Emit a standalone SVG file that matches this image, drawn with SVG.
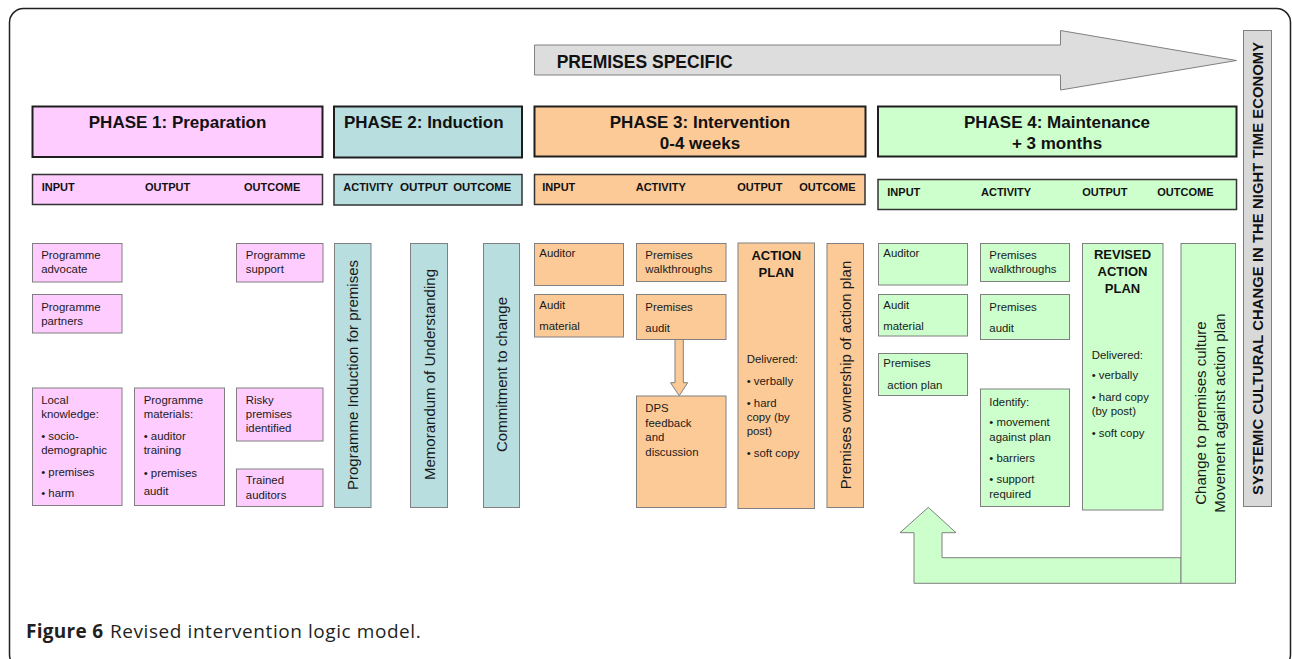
<svg xmlns="http://www.w3.org/2000/svg" width="1292" height="659" viewBox="0 0 1292 659">
<style>
text{font-family:"Liberation Sans",Arial,sans-serif;fill:#1a1a1a}
.hdr{stroke:#1e1e1e;stroke-width:2}
.row{stroke:#333;stroke-width:1.5}
.box{stroke:#808080;stroke-width:1}
.pink{fill:#FFCCFF}.teal{fill:#B8DEE0}.orng{fill:#FCCA97}.grn{fill:#CCFFCC}
.h{font-size:17px;font-weight:bold;fill:#111}
.r{font-size:11px;font-weight:bold;fill:#111}
.t{font-size:11.4px}
.v{font-size:15px}
.b{font-size:13px;font-weight:bold;fill:#111}
.mid{text-anchor:middle}
</style>
<rect id="frame" x="9.5" y="8.5" width="1281" height="660" rx="14" fill="none" stroke="#231f20" stroke-width="1.5"/>

<g id="premises-specific">
<polygon points="534.5,45 1060.5,45 1060.5,30.5 1236.5,60.5 1060.5,90 1060.5,75 534.5,75" fill="#DDDDDD" stroke="#808080" stroke-width="1"/>
<text x="556.7" y="68.3" style="font-size:17.5px;font-weight:bold;fill:#111">PREMISES SPECIFIC</text>
</g>

<g id="systemic">
<rect x="1243.5" y="30.5" width="28" height="476" fill="#D9D9D9" stroke="#808080" stroke-width="1"/>
<text transform="translate(1262.8,268.4) rotate(-90)" class="mid" style="font-size:14.8px;font-weight:bold;fill:#111" textLength="453" lengthAdjust="spacing">SYSTEMIC CULTURAL CHANGE IN THE NIGHT TIME ECONOMY</text>
</g>

<!-- Phase headers -->
<g id="phase1-header">
<rect class="hdr pink" x="32.5" y="106.5" width="290" height="50.5"/>
<text class="h mid" x="177.6" y="128.3">PHASE 1: Preparation</text>
</g>
<g id="phase1-row">
<rect class="row pink" x="32.5" y="174.5" width="290" height="30"/>
<text class="r" x="41.7" y="190.7">INPUT</text>
<text class="r" x="145" y="190.7">OUTPUT</text>
<text class="r" x="244" y="190.7">OUTCOME</text>
</g>
<g id="phase2-header">
<rect class="hdr teal" x="334" y="106.5" width="188" height="51"/>
<text class="h" x="344" y="128.3">PHASE 2: Induction</text>
</g>
<g id="phase2-row">
<rect class="row teal" x="334" y="174.5" width="188" height="30.5"/>
<text class="r" x="343.3" y="190.7" textLength="50" lengthAdjust="spacingAndGlyphs">ACTIVITY</text>
<text class="r" x="400" y="190.7" textLength="48" lengthAdjust="spacingAndGlyphs">OUTPUT</text>
<text class="r" x="453.3" y="190.7" textLength="58" lengthAdjust="spacingAndGlyphs">OUTCOME</text>
</g>
<g id="phase3-header">
<rect class="hdr orng" x="534.5" y="106.5" width="331" height="50"/>
<text class="h mid" x="700" y="128.3">PHASE 3: Intervention</text>
<text class="h mid" x="700" y="149">0-4 weeks</text>
</g>
<g id="phase3-row">
<rect class="row orng" x="534.5" y="174.5" width="330.5" height="30"/>
<text class="r" x="542.3" y="191">INPUT</text>
<text class="r" x="635.7" y="191">ACTIVITY</text>
<text class="r" x="737.3" y="191">OUTPUT</text>
<text class="r" x="799.3" y="191">OUTCOME</text>
</g>
<g id="phase4-header">
<rect class="hdr grn" x="878" y="106.5" width="358.5" height="50"/>
<text class="h mid" x="1057" y="128.3">PHASE 4: Maintenance</text>
<text class="h mid" x="1057" y="149">+ 3 months</text>
</g>
<g id="phase4-row">
<rect class="row grn" x="878" y="179.5" width="358.5" height="30"/>
<text class="r" x="887.3" y="196">INPUT</text>
<text class="r" x="981" y="196">ACTIVITY</text>
<text class="r" x="1082.3" y="196">OUTPUT</text>
<text class="r" x="1157.3" y="196">OUTCOME</text>
</g>

<!-- Phase 1 nodes -->
<g id="p1-advocate">
<rect class="box pink" x="32.5" y="243.5" width="89.5" height="38.5"/>
<text class="t" x="41.2" y="259.3">Programme</text>
<text class="t" x="41.2" y="273.3">advocate</text>
</g>
<g id="p1-partners">
<rect class="box pink" x="32.5" y="294.5" width="89.5" height="38.5"/>
<text class="t" x="41.2" y="310.7">Programme</text>
<text class="t" x="41.2" y="324.7">partners</text>
</g>
<g id="p1-local">
<rect class="box pink" x="32.5" y="388" width="89.5" height="117.5"/>
<text class="t" x="41.2" y="404">Local</text>
<text class="t" x="41.2" y="418">knowledge:</text>
<text class="t" x="41.2" y="440">• socio-</text>
<text class="t" x="41.2" y="454">demographic</text>
<text class="t" x="41.2" y="476">• premises</text>
<text class="t" x="41.2" y="497.3">• harm</text>
</g>
<g id="p1-materials">
<rect class="box pink" x="134.5" y="388" width="90" height="117.5"/>
<text class="t" x="143.7" y="404">Programme</text>
<text class="t" x="143.7" y="418">materials:</text>
<text class="t" x="143.7" y="440">• auditor</text>
<text class="t" x="143.7" y="454">training</text>
<text class="t" x="143.7" y="477.3">• premises</text>
<text class="t" x="143.7" y="495.3">audit</text>
</g>
<g id="p1-support">
<rect class="box pink" x="236.5" y="243.5" width="86.5" height="38.5"/>
<text class="t" x="245.8" y="259.3">Programme</text>
<text class="t" x="245.8" y="273.3">support</text>
</g>
<g id="p1-risky">
<rect class="box pink" x="236.5" y="388" width="86.5" height="53"/>
<text class="t" x="245.8" y="404">Risky</text>
<text class="t" x="245.8" y="418">premises</text>
<text class="t" x="245.8" y="432">identified</text>
</g>
<g id="p1-trained">
<rect class="box pink" x="236.5" y="469" width="86.5" height="37.5"/>
<text class="t" x="245.8" y="484">Trained</text>
<text class="t" x="245.8" y="498.7">auditors</text>
</g>

<!-- Phase 2 nodes -->
<g id="p2-induction">
<rect class="box teal" x="334.5" y="243.5" width="36.5" height="264"/>
<text class="v mid" transform="translate(358,375) rotate(-90)">Programme Induction for premises</text>
</g>
<g id="p2-memorandum">
<rect class="box teal" x="410.5" y="243.5" width="37" height="264"/>
<text class="v mid" transform="translate(434.5,374.5) rotate(-90)">Memorandum of Understanding</text>
</g>
<g id="p2-commitment">
<rect class="box teal" x="483.5" y="243.5" width="36" height="264"/>
<text class="v mid" transform="translate(507,374.5) rotate(-90)">Commitment to change</text>
</g>

<!-- Phase 3 nodes -->
<g id="p3-auditor">
<rect class="box orng" x="534.5" y="243.5" width="89" height="42"/>
<text class="t" x="539.3" y="257.3">Auditor</text>
</g>
<g id="p3-audit-material">
<rect class="box orng" x="534.5" y="294.5" width="89" height="42.5"/>
<text class="t" x="539.3" y="308.7">Audit</text>
<text class="t" x="539.3" y="330.3">material</text>
</g>
<g id="p3-walkthroughs">
<rect class="box orng" x="636.5" y="243.5" width="89.5" height="38"/>
<text class="t" x="645.3" y="259.3">Premises</text>
<text class="t" x="645.3" y="273.3">walkthroughs</text>
</g>
<g id="p3-audit">
<rect class="box orng" x="636.5" y="294.5" width="89.5" height="45"/>
<text class="t" x="645.3" y="310.7">Premises</text>
<text class="t" x="645.3" y="332">audit</text>
</g>
<g id="p3-dps">
<rect class="box orng" x="636.5" y="396" width="89.5" height="111.5"/>
<text class="t" x="645.3" y="412">DPS</text>
<text class="t" x="645.3" y="426.5">feedback</text>
<text class="t" x="645.3" y="441">and</text>
<text class="t" x="645.3" y="455.5">discussion</text>
</g>
<g id="p3-action-plan">
<rect class="box orng" x="738" y="243" width="76.5" height="265.5"/>
<text class="b mid" x="776.3" y="260">ACTION</text>
<text class="b mid" x="776.3" y="276.7">PLAN</text>
<text class="t" x="746.7" y="363.3">Delivered:</text>
<text class="t" x="746.7" y="385.3">• verbally</text>
<text class="t" x="746.7" y="406.7">• hard</text>
<text class="t" x="746.7" y="421.3">copy (by</text>
<text class="t" x="746.7" y="435.3">post)</text>
<text class="t" x="746.7" y="457.3">• soft copy</text>
</g>
<g id="p3-ownership">
<rect class="box orng" x="827" y="243.5" width="36.5" height="264"/>
<text class="v mid" transform="translate(851,375) rotate(-90)">Premises ownership of action plan</text>
</g>

<!-- Phase 4 nodes -->
<g id="p4-auditor">
<rect class="box grn" x="878.5" y="243.5" width="89" height="41.5"/>
<text class="t" x="883.3" y="257.3">Auditor</text>
</g>
<g id="p4-audit-material">
<rect class="box grn" x="878.5" y="294.5" width="89" height="41.5"/>
<text class="t" x="883.3" y="308.7">Audit</text>
<text class="t" x="883.3" y="330.3">material</text>
</g>
<g id="p4-premises-action-plan">
<rect class="box grn" x="878.5" y="353.5" width="89" height="42"/>
<text class="t" x="883.3" y="367.3">Premises</text>
<text class="t" x="887.3" y="388.7">action plan</text>
</g>
<g id="p4-walkthroughs">
<rect class="box grn" x="980.5" y="243.5" width="89" height="38"/>
<text class="t" x="989.3" y="259.3">Premises</text>
<text class="t" x="989.3" y="273.3">walkthroughs</text>
</g>
<g id="p4-audit">
<rect class="box grn" x="980.5" y="294.5" width="89" height="45"/>
<text class="t" x="989.3" y="310.7">Premises</text>
<text class="t" x="989.3" y="332">audit</text>
</g>
<g id="p4-identify">
<rect class="box grn" x="980.5" y="389" width="89" height="117.5"/>
<text class="t" x="989.3" y="406">Identify:</text>
<text class="t" x="989.3" y="426">• movement</text>
<text class="t" x="989.3" y="440.7">against plan</text>
<text class="t" x="989.3" y="462">• barriers</text>
<text class="t" x="989.3" y="483.3">• support</text>
<text class="t" x="989.3" y="498">required</text>
</g>
<g id="p4-revised-action-plan">
<rect class="box grn" x="1082.5" y="243.5" width="80.5" height="266.5"/>
<text class="b mid" x="1122.5" y="259.3">REVISED</text>
<text class="b mid" x="1122.5" y="276">ACTION</text>
<text class="b mid" x="1122.5" y="292.7">PLAN</text>
<text class="t" x="1091.7" y="359.3">Delivered:</text>
<text class="t" x="1091.7" y="379.3">• verbally</text>
<text class="t" x="1091.7" y="400.7">• hard copy</text>
<text class="t" x="1091.7" y="415.3">(by post)</text>
<text class="t" x="1091.7" y="436.7">• soft copy</text>
</g>

<!-- Connectors -->
<g id="connectors">
<polygon points="675,339.5 683.3,339.5 683.3,382.7 687.7,382.7 679.2,395.7 670.5,382.7 675,382.7" fill="#FCCA97" stroke="#808080" stroke-width="1"/>
<polygon points="1181,557.7 942,557.7 942,532.7 956,532.7 928.3,507.3 900,532.7 914,532.7 914,583.3 1181,583.3" fill="#CCFFCC" stroke="#808080" stroke-width="1"/>
</g>

<g id="p4-change">
<rect class="box grn" x="1181" y="243.5" width="54.5" height="339.8"/>
<text class="v mid" transform="translate(1205.5,413) rotate(-90)">Change to premises culture</text>
<text class="v mid" transform="translate(1224.5,413) rotate(-90)">Movement against action plan</text>
</g>

<g id="caption">
<text x="26" y="637.7" style="font-family:'Open Sans','Liberation Sans',sans-serif;font-size:19px;font-weight:bold;fill:#231f20" textLength="77" lengthAdjust="spacing">Figure 6</text>
<text x="110" y="637.7" style="font-family:'Open Sans','Liberation Sans',sans-serif;font-size:19px;fill:#231f20" textLength="310.7" lengthAdjust="spacing">Revised intervention logic model.</text>
</g>
</svg>
